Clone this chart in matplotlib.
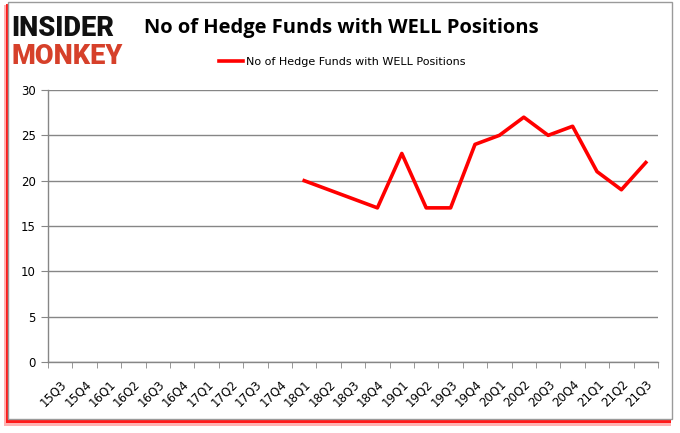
import matplotlib
matplotlib.use("Agg")
import matplotlib.pyplot as plt
from matplotlib.patches import Rectangle

quarters = ['15Q3', '15Q4', '16Q1', '16Q2', '16Q3', '16Q4', '17Q1', '17Q2', '17Q3',
            '17Q4', '18Q1', '18Q2', '18Q3', '18Q4', '19Q1', '19Q2', '19Q3', '19Q4',
            '20Q1', '20Q2', '20Q3', '20Q4', '21Q1', '21Q2', '21Q3']
hf_quarters = ['18Q1', '18Q2', '18Q3', '18Q4', '19Q1', '19Q2', '19Q3', '19Q4',
               '20Q1', '20Q2', '20Q3', '20Q4', '21Q1', '21Q2', '21Q3']
hf_counts = [20, 19, 18, 17, 23, 17, 17, 24, 25, 27, 25, 26, 21, 19, 22]
y_ticks = [0, 5, 10, 15, 20, 25, 30]

W, H = 680, 433


def main():
    fig = plt.figure(figsize=(W / 100, H / 100), dpi=100)
    fig.patch.set_facecolor('white')

    # outer frame with red shadow
    fig.patches.append(Rectangle((4 / W, 1 - 426 / H), 667 / W, 421 / H,
                                 transform=fig.transFigure, facecolor='#ff0000',
                                 edgecolor='none', alpha=0.3, zorder=-3))
    fig.patches.append(Rectangle((6 / W, 1 - 423 / H), 665 / W, 419 / H,
                                 transform=fig.transFigure, facecolor='#ff0000',
                                 edgecolor='none', alpha=0.85, zorder=-2))
    fig.patches.append(Rectangle((8 / W, 1 - 419 / H), 664 / W, 417 / H,
                                 transform=fig.transFigure, facecolor='white',
                                 edgecolor='#9a9a9a', linewidth=1, zorder=-1))

    ax = fig.add_axes([48 / W, 1 - 362 / H, 610 / W, 272 / H])
    ax.set_facecolor('none')
    ax.set_zorder(2)

    x = [quarters.index(q) for q in hf_quarters]
    ax.plot(x, hf_counts, color='#ff0000', linewidth=2.6,
            label='No of Hedge Funds with WELL Positions', zorder=3)

    ax.set_xlim(-0.5, len(quarters) - 0.5)
    ax.set_ylim(0, 30)
    ax.set_yticks(y_ticks)
    ax.set_xticks(range(len(quarters)))
    ax.set_xticklabels(quarters, rotation=45, ha='right', rotation_mode='anchor')
    ax.set_xticks([i - 0.5 for i in range(len(quarters) + 1)], minor=True)
    ax.tick_params(axis='x', which='major', length=0, pad=11, labelsize=8.5)
    ax.tick_params(axis='x', which='minor', length=4, color='#868686')
    ax.tick_params(axis='y', length=5, color='#868686', labelsize=8.5, pad=4)

    ax.grid(axis='y', color='#868686', linewidth=1)
    ax.set_axisbelow(True)
    for s in ['top', 'right']:
        ax.spines[s].set_visible(False)
    for s in ['left', 'bottom']:
        ax.spines[s].set_color('#868686')
        ax.spines[s].set_linewidth(1)

    fig.text(341 / W, 1 - 28 / H, 'No of Hedge Funds with WELL Positions',
             ha='center', va='center', fontsize=14.5, fontweight='bold',
             family='Open Sans', color='black')
    fig.legend(loc='center', bbox_to_anchor=(342 / W, 1 - 62 / H), frameon=False,
               fontsize=8, handlelength=2.2, handletextpad=0.2)

    # logo
    fig.text(11 / W, 1 - 28 / H, 'INSIDER', ha='left', va='center', fontsize=19.5,
             fontweight='black', family='Roboto', color='#111111')
    fig.text(11 / W, 1 - 57 / H, 'MONKEY', ha='left', va='center', fontsize=19.5,
             fontweight='black', family='Roboto', color='#d6402a')

    fig.savefig('out.png', dpi=100)


if __name__ == "__main__":
    main()
